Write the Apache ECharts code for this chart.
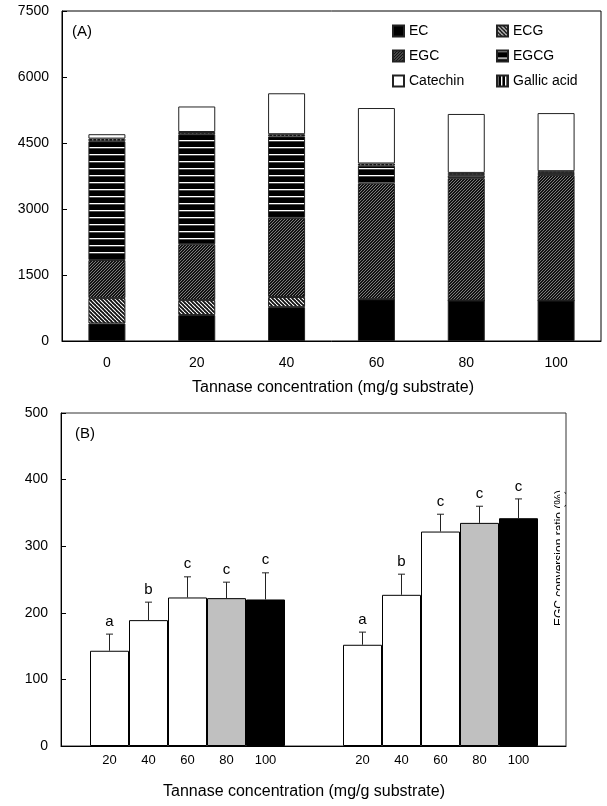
<!DOCTYPE html>
<html><head><meta charset="utf-8">
<script src="https://cdn.jsdelivr.net/npm/echarts@6/dist/echarts.min.js"></script>
<style>html,body{margin:0;padding:0;background:#fff}#c{width:607px;height:806px}</style>
</head><body><div id="c"></div>
<script>
// ---------- Panel A data ----------
const concA = ['0', '20', '40', '60', '80', '100'];
const EC = [400, 590, 770, 950, 920, 920];
const ECG = [575, 340, 230, 0, 0, 0];
const EGC = [865, 1270, 1800, 2635, 2780, 2850];
const EGCG = [2700, 2500, 1850, 400, 70, 50];
const gallicAcid = [60, 50, 50, 50, 50, 40];
const catechin = [100, 580, 930, 1260, 1340, 1320];

// ---------- Panel B data ----------
const concB = ['20', '40', '60', '80', '100'];
const leftMean = [143, 189, 223, 222, 220];
const leftErr = [25, 27, 31, 24, 40];
const leftLetters = ['a', 'b', 'c', 'c', 'c'];
const rightMean = [152, 227, 322, 335, 342];
const rightErr = [19, 31, 26, 25, 29];
const rightLetters = ['a', 'b', 'c', 'c', 'c'];

const FONT = '"Liberation Sans", Arial, sans-serif';

function pat(w, h, draw) {
  const c = document.createElement('canvas');
  c.width = w; c.height = h;
  const g = c.getContext('2d');
  draw(g, w, h);
  return { image: c, repeat: 'repeat' };
}
const pECG = pat(4, 4, (g, w, h) => {
  g.fillStyle = '#111'; g.fillRect(0, 0, w, h);
  g.strokeStyle = '#fff'; g.lineWidth = 1.1;
  for (let x0 = -w; x0 <= w; x0 += w) { g.beginPath(); g.moveTo(x0, 0); g.lineTo(x0 + w, h); g.stroke(); }
});
const pEGC = pat(3, 3, (g, w, h) => {
  g.fillStyle = '#111'; g.fillRect(0, 0, w, h);
  g.strokeStyle = '#aaa'; g.lineWidth = 0.7;
  for (let x0 = -w; x0 <= 2 * w; x0 += w) { g.beginPath(); g.moveTo(x0, h); g.lineTo(x0 + w, 0); g.stroke(); }
});
const pEGCG = pat(4, 7, (g, w, h) => {
  g.fillStyle = '#000'; g.fillRect(0, 0, w, h);
  g.fillStyle = '#fff'; g.fillRect(0, 0, w, 1.3);
});
const pGallic = pat(4, 4, (g, w, h) => {
  g.fillStyle = '#000'; g.fillRect(0, 0, w, h);
  g.fillStyle = '#fff'; g.fillRect(0, 0, 1.4, h);
});

const chart = echarts.init(document.getElementById('c'), null, { renderer: 'canvas' });

function stackSeries(name, data, color) {
  return {
    name, type: 'bar', stack: 'a', data, barWidth: 37,
    xAxisIndex: 0, yAxisIndex: 0,
    itemStyle: { color, borderColor: '#222', borderWidth: 1 },
    emphasis: { disabled: true }
  };
}

function errSeries(gi, mean, err, letters) {
  return {
    type: 'custom', xAxisIndex: gi, yAxisIndex: gi, z: 5,
    data: mean.map((m, i) => [i, m, err[i]]),
    renderItem(params, api) {
      const i = api.value(0), m = api.value(1), e = api.value(2);
      const p0 = api.coord([i, m]);
      const p1 = api.coord([i, m + e]);
      return {
        type: 'group', children: [
          { type: 'line', shape: { x1: p0[0], y1: p0[1], x2: p1[0], y2: p1[1] }, style: { stroke: '#222', lineWidth: 1 } },
          { type: 'line', shape: { x1: p1[0] - 3.5, y1: p1[1], x2: p1[0] + 3.5, y2: p1[1] }, style: { stroke: '#222', lineWidth: 1 } },
          { type: 'text', style: { text: letters[i], x: p1[0], y: p1[1] - 5, align: 'center', verticalAlign: 'bottom', fontSize: 15, fill: '#000', fontFamily: FONT } }
        ]
      };
    }
  };
}

function barB(gi, mean) {
  const cols = ['#fff', '#fff', '#fff', '#c0c0c0', '#000'];
  return {
    type: 'bar', xAxisIndex: gi, yAxisIndex: gi, barWidth: '100%',
    data: mean.map((v, i) => ({ value: v, itemStyle: { color: cols[i] } })),
    itemStyle: { borderColor: '#000', borderWidth: 1 },
    emphasis: { disabled: true }
  };
}

const legendPos = [
  ['EC', 392, 24], ['ECG', 496, 24],
  ['EGC', 392, 49], ['EGCG', 496, 49],
  ['Catechin', 392, 74], ['Gallic acid', 496, 74]
];

const axisBlack = { lineStyle: { color: '#000', width: 1 } };
const plain = v => String(v);

chart.setOption({
  animation: false,
  textStyle: { fontFamily: FONT },
  legend: legendPos.map(([n, l, t]) => ({
    data: [n], left: l, top: t, padding: 0, itemWidth: 11, itemHeight: 11, icon: 'rect',
    selectedMode: false, textStyle: { fontSize: 14, color: '#000', fontFamily: FONT }
  })),
  grid: [
    { left: 62, right: 6, top: 11, bottom: 465, show: true, borderColor: '#000', borderWidth: 1 },
    { left: 61, right: 41, top: 413, bottom: 60, show: true, borderColor: '#333', borderWidth: 1 },
    { left: 90, width: 195, top: 413, bottom: 60 },
    { left: 343, width: 195, top: 413, bottom: 60 }
  ],
  xAxis: [
    { gridIndex: 0, type: 'category', data: concA, axisLine: axisBlack,
      axisTick: { inside: true, length: 5, lineStyle: { color: '#000' } },
      axisLabel: { fontSize: 14, color: '#000', margin: 15 } },
    { gridIndex: 1, type: 'category', data: ['', ''], axisLine: axisBlack,
      axisTick: { inside: true, length: 5, lineStyle: { color: '#000' } },
      axisLabel: { show: false } },
    { gridIndex: 2, type: 'category', data: concB, axisLine: { show: false }, axisTick: { show: false },
      axisLabel: { fontSize: 13, color: '#000', margin: 8 } },
    { gridIndex: 3, type: 'category', data: concB, axisLine: { show: false }, axisTick: { show: false },
      axisLabel: { fontSize: 13, color: '#000', margin: 8 } }
  ],
  yAxis: [
    { gridIndex: 0, type: 'value', min: 0, max: 7500, interval: 1500, splitLine: { show: false },
      axisLine: { show: true, lineStyle: { color: '#000' } },
      axisTick: { show: true, inside: true, length: 5, lineStyle: { color: '#000' } },
      axisLabel: { fontSize: 14, color: '#000', margin: 13, formatter: plain } },
    { gridIndex: 1, type: 'value', min: 0, max: 500, interval: 100, splitLine: { show: false },
      axisLine: { show: true, lineStyle: { color: '#000' } },
      axisTick: { show: true, inside: true, length: 5, lineStyle: { color: '#000' } },
      axisLabel: { fontSize: 14, color: '#000', margin: 13, formatter: plain } },
    { gridIndex: 2, type: 'value', min: 0, max: 500, show: false },
    { gridIndex: 3, type: 'value', min: 0, max: 500, show: false }
  ],
  series: [
    stackSeries('EC', EC, '#000'),
    stackSeries('ECG', ECG, pECG),
    stackSeries('EGC', EGC, pEGC),
    stackSeries('EGCG', EGCG, pEGCG),
    stackSeries('Gallic acid', gallicAcid, pGallic),
    stackSeries('Catechin', catechin, '#fff'),
    barB(2, leftMean),
    barB(3, rightMean),
    errSeries(2, leftMean, leftErr, leftLetters),
    errSeries(3, rightMean, rightErr, rightLetters)
  ],
  graphic: [
    { type: 'text', left: 72, top: 24, style: { text: '(A)', fontSize: 15, fill: '#000', fontFamily: FONT } },
    { type: 'text', left: 75, top: 426, style: { text: '(B)', fontSize: 15, fill: '#000', fontFamily: FONT } },
    { type: 'text', x: 333, y: 388, style: { text: 'Tannase concentration (mg/g substrate)', align: 'center', verticalAlign: 'middle', fontSize: 16, fill: '#000', fontFamily: FONT } },
    { type: 'text', x: 304, y: 792, style: { text: 'Tannase concentration (mg/g substrate)', align: 'center', verticalAlign: 'middle', fontSize: 16, fill: '#000', fontFamily: FONT } },
    { type: 'text', x: 554, y: 558, rotation: Math.PI / 2, z: 90, style: { text: 'EGC conversion ratio (%)', align: 'center', verticalAlign: 'top', fontSize: 12, fill: '#000', fontFamily: FONT } },
    { type: 'rect', z: 100, shape: { x: 560, y: 470, width: 4.5, height: 180 }, style: { fill: '#fff' } }
  ]
});
</script></body></html>
